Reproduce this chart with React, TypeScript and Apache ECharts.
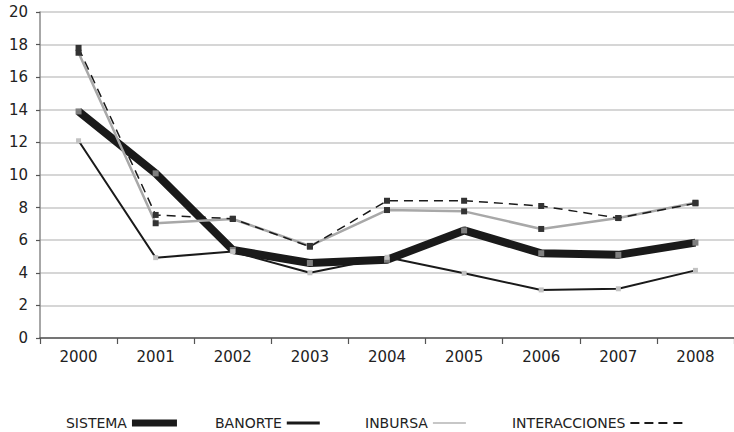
import React, { useEffect, useRef } from "react";
import * as echarts from "echarts";

const years = ["2000", "2001", "2002", "2003", "2004", "2005", "2006", "2007", "2008"];
const sistema = [13.9, 10.1, 5.4, 4.6, 4.8, 6.6, 5.2, 5.1, 5.85];
const banorte = [12.1, 4.93, 5.3, 4.0, 4.95, 3.97, 2.95, 3.02, 4.15];
const inbursa = [17.5, 7.04, 7.3, 5.65, 7.85, 7.77, 6.69, 7.36, 8.3];
const interacciones = [17.8, 7.55, 7.32, 5.6, 8.42, 8.42, 8.1, 7.36, 8.26];

const FONT = "'DejaVu Sans', 'Open Sans', sans-serif";

export default function App() {
  const ref = useRef<HTMLDivElement>(null);
  useEffect(() => {
    if (!ref.current) return;
    const chart = echarts.init(ref.current, undefined, { renderer: "svg" });
    const legendBase = {
      top: 411,
      align: "right",
      orient: "horizontal",
      selectedMode: false,
      symbolKeepAspect: false,
      textStyle: { fontSize: 14, color: "#222", fontFamily: FONT },
    };
    chart.setOption({
      animation: false,
      backgroundColor: "#fff",
      grid: { left: 40, right: -3, top: 12, bottom: 94, containLabel: false },
      xAxis: {
        type: "category",
        data: years,
        boundaryGap: true,
        axisLine: { show: true, lineStyle: { color: "#555", width: 1.5 } },
        axisTick: { show: true, length: 6, lineStyle: { color: "#555", width: 1.2 } },
        axisLabel: { margin: 11, fontSize: 15, color: "#222", fontFamily: FONT },
        splitLine: { show: false },
      },
      yAxis: {
        type: "value",
        min: 0,
        max: 20,
        interval: 2,
        axisLine: { show: true, lineStyle: { color: "#8a8a8a", width: 1.5 } },
        axisTick: { show: true, length: 4, lineStyle: { color: "#555", width: 1.2 } },
        axisLabel: { margin: 12, fontSize: 15, color: "#222", fontFamily: FONT },
        splitLine: { show: true, lineStyle: { color: "#c8c8c8", width: 1.5 } },
      },
      legend: [
        {
          ...legendBase,
          left: 61,
          icon: "rect",
          itemWidth: 45,
          itemHeight: 7,
          data: [{ name: "SISTEMA", itemStyle: { color: "#1a1a1a" } }],
        },
        {
          ...legendBase,
          left: 210,
          icon: "rect",
          itemWidth: 33,
          itemHeight: 3,
          data: [{ name: "BANORTE", itemStyle: { color: "#1a1a1a" } }],
        },
        {
          ...legendBase,
          left: 360,
          icon: "rect",
          itemWidth: 33,
          itemHeight: 1.5,
          data: [{ name: "INBURSA", itemStyle: { color: "#b5b5b5" } }],
        },
        {
          ...legendBase,
          left: 507,
          icon: "path://M0,0h9v2h-9z M14,0h9v2h-9z M28,0h9v2h-9z M43,0h9v2h-9z",
          itemWidth: 52,
          itemHeight: 2,
          data: [{ name: "INTERACCIONES", itemStyle: { color: "#1a1a1a" } }],
        },
      ],
      series: [
        {
          name: "SISTEMA",
          type: "line",
          data: sistema,
          symbol: "rect",
          symbolSize: 6,
          lineStyle: { color: "#1a1a1a", width: 8 },
          itemStyle: { color: "#7f7f7f" },
        },
        {
          name: "BANORTE",
          type: "line",
          data: banorte,
          symbol: "rect",
          symbolSize: 5,
          lineStyle: { color: "#1a1a1a", width: 2 },
          itemStyle: { color: "#c2c2c2" },
        },
        {
          name: "INBURSA",
          type: "line",
          data: inbursa,
          symbol: "rect",
          symbolSize: 6,
          lineStyle: { color: "#a8a8a8", width: 2.5 },
          itemStyle: { color: "#333" },
        },
        {
          name: "INTERACCIONES",
          type: "line",
          data: interacciones,
          symbol: "rect",
          symbolSize: 6,
          lineStyle: { color: "#1a1a1a", width: 1.5, type: [9, 6] },
          itemStyle: { color: "#333" },
        },
      ],
    });
    return () => chart.dispose();
  }, []);
  return <div ref={ref} style={{ width: 734, height: 432, position: "absolute", left: 0, top: 0 }} />;
}
